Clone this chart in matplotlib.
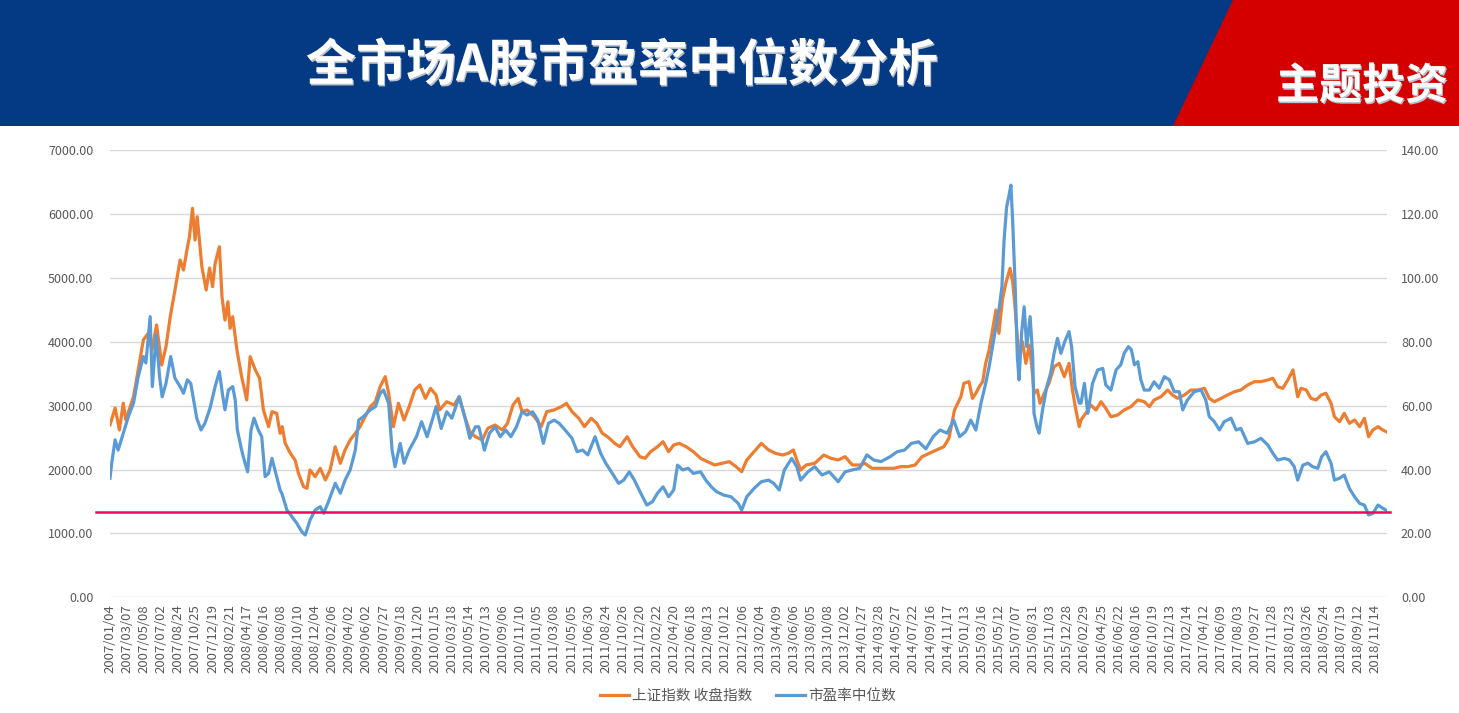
import numpy as np
import matplotlib
matplotlib.use('Agg')
import matplotlib.pyplot as plt
from matplotlib.patches import Rectangle, Polygon
from matplotlib.lines import Line2D
import matplotlib.patheffects as pe

plt.rcParams['font.family'] = ['Noto Sans CJK SC', 'DejaVu Sans']

# trading-day index (one x tick every 40 trading days) and values
sh_day = [0, 12, 22, 31, 37, 55, 66, 78, 90, 98, 109, 121, 131, 141, 152, 164, 172, 180, 186, 193,
          199, 204, 215, 225, 233, 240, 246, 256, 262, 269, 276, 281, 287, 297, 308, 320, 328, 340, 350, 359,
          371, 379, 390, 398, 403, 410, 422, 433, 441, 453, 461, 468, 480, 492, 504, 515, 527, 539, 550, 562,
          574, 585, 597, 609, 621, 632, 644, 652, 663, 675, 688, 700, 713, 725, 738, 750, 763, 771, 788, 805,
          817, 830, 842, 855, 871, 884, 901, 918, 930, 943, 955, 964, 976, 993, 1009, 1022, 1039, 1056, 1068, 1081,
          1097, 1110, 1126, 1139, 1152, 1164, 1181, 1193, 1210, 1223, 1240, 1252, 1265, 1281, 1294, 1307, 1319, 1332, 1348, 1365,
          1382, 1398, 1415, 1432, 1449, 1465, 1478, 1490, 1507, 1524, 1541, 1557, 1574, 1587, 1599, 1607, 1616, 1629, 1649, 1670,
          1687, 1704, 1720, 1737, 1754, 1766, 1783, 1800, 1817, 1834, 1850, 1867, 1884, 1900, 1917, 1934, 1951, 1963, 1976, 1991,
          1998, 2010, 2018, 2026, 2034, 2042, 2049, 2057, 2065, 2073, 2080, 2088, 2096, 2106, 2112, 2117, 2124, 2129, 2135, 2143,
          2151, 2157, 2162, 2170, 2176, 2186, 2197, 2209, 2221, 2233, 2244, 2252, 2260, 2268, 2272, 2283, 2295, 2307, 2319, 2330,
          2342, 2358, 2373, 2389, 2405, 2420, 2432, 2443, 2459, 2475, 2486, 2498, 2514, 2529, 2545, 2561, 2572, 2584, 2600, 2615,
          2631, 2646, 2662, 2678, 2693, 2709, 2721, 2732, 2744, 2756, 2768, 2779, 2787, 2799, 2810, 2822, 2834, 2845, 2857, 2865,
          2877, 2888, 2900, 2912, 2924, 2935, 2945, 2955, 2967, 2978, 2986]
sh_close = [2700, 2965, 2620, 3040, 2777, 3141, 3560, 4030, 4140, 3873, 4265, 3638, 3925, 4395, 4812, 5282, 5125, 5440, 5647, 6092,
            5595, 5960, 5177, 4812, 5157, 4864, 5230, 5490, 4707, 4342, 4629, 4212, 4394, 3873, 3455, 3090, 3768, 3560, 3430, 2933,
            2672, 2907, 2881, 2568, 2672, 2411, 2255, 2150, 1942, 1732, 1707, 1993, 1889, 2020, 1837, 1993, 2358, 2098, 2307, 2463,
            2568, 2672, 2828, 2985, 3063, 3298, 3455, 3195, 2672, 3038, 2777, 2985, 3246, 3325, 3116, 3273, 3168, 2933, 3063, 3011,
            3141, 2828, 2594, 2515, 2463, 2646, 2698, 2620, 2724, 3011, 3116, 2907, 2933, 2828, 2672, 2907, 2933, 2985, 3038, 2907,
            2803, 2672, 2803, 2724, 2568, 2515, 2411, 2358, 2515, 2358, 2202, 2176, 2280, 2358, 2437, 2280, 2385, 2411, 2358, 2280,
            2176, 2124, 2072, 2098, 2124, 2046, 1967, 2150, 2280, 2411, 2307, 2255, 2228, 2255, 2307, 2150, 1993, 2072, 2098, 2228,
            2176, 2150, 2202, 2072, 2072, 2098, 2020, 2020, 2020, 2020, 2046, 2046, 2072, 2202, 2255, 2307, 2358, 2490, 2933, 3141,
            3351, 3377, 3116, 3195, 3298, 3377, 3664, 3873, 4186, 4499, 4134, 4656, 4917, 5152, 4942, 4604, 3977, 3821, 4003, 3664,
            3951, 3611, 3195, 3246, 3038, 3195, 3351, 3611, 3664, 3455, 3664, 3246, 2933, 2672, 2777, 2881, 3011, 2933, 3063, 2959,
            2828, 2855, 2933, 2985, 3090, 3063, 2985, 3090, 3141, 3246, 3168, 3116, 3168, 3246, 3246, 3273, 3116, 3063, 3116, 3168,
            3220, 3246, 3325, 3377, 3377, 3403, 3430, 3298, 3273, 3403, 3560, 3141, 3273, 3246, 3116, 3090, 3168, 3195, 3038, 2828,
            2750, 2881, 2724, 2777, 2672, 2803, 2515, 2620, 2672, 2620, 2594]

pe_day = [0, 4, 12, 19, 31, 43, 55, 66, 78, 84, 94, 99, 108, 116, 122, 131, 142, 152, 164, 172,
          181, 189, 203, 213, 222, 234, 246, 256, 264, 269, 277, 287, 293, 298, 308, 314, 322, 330, 337, 347,
          355, 363, 371, 379, 386, 398, 402, 414, 426, 437, 449, 457, 468, 480, 492, 500, 511, 527, 539, 550,
          562, 574, 582, 593, 609, 621, 632, 640, 652, 660, 667, 679, 688, 700, 717, 729, 742, 754, 763, 775,
          788, 800, 817, 830, 842, 855, 863, 876, 888, 901, 913, 926, 938, 951, 964, 976, 989, 1001, 1014, 1026,
          1039, 1051, 1068, 1081, 1093, 1106, 1118, 1135, 1148, 1160, 1173, 1190, 1202, 1215, 1227, 1240, 1256, 1269, 1281, 1294,
          1307, 1319, 1328, 1340, 1353, 1365, 1382, 1394, 1407, 1419, 1436, 1453, 1470, 1478, 1490, 1507, 1524, 1541, 1553, 1566,
          1578, 1595, 1607, 1616, 1633, 1649, 1666, 1683, 1704, 1720, 1737, 1754, 1771, 1787, 1804, 1825, 1842, 1859, 1875, 1892,
          1909, 1926, 1942, 1959, 1974, 1988, 2002, 2014, 2026, 2038, 2049, 2057, 2065, 2073, 2080, 2087, 2092, 2098, 2103, 2108,
          2112, 2118, 2123, 2127, 2133, 2139, 2145, 2153, 2159, 2162, 2169, 2174, 2182, 2192, 2201, 2209, 2217, 2225, 2234, 2244,
          2250, 2258, 2268, 2272, 2280, 2288, 2299, 2311, 2323, 2330, 2342, 2354, 2365, 2373, 2383, 2390, 2397, 2405, 2412, 2420,
          2432, 2443, 2455, 2467, 2479, 2490, 2502, 2510, 2521, 2537, 2553, 2564, 2572, 2584, 2596, 2607, 2623, 2635, 2646, 2662,
          2678, 2693, 2709, 2721, 2732, 2748, 2760, 2771, 2779, 2791, 2803, 2814, 2826, 2835, 2845, 2857, 2865, 2877, 2888, 2900,
          2912, 2924, 2935, 2945, 2955, 2967, 2978, 2986]
pe_median = [37.3, 42.0, 49.3, 46.1, 51.4, 56.6, 60.8, 69.1, 75.4, 73.4, 87.9, 66.0, 82.2, 69.1, 62.8, 67.0, 75.4, 68.6, 66.0, 63.9,
             68.1, 67.0, 56.1, 52.4, 54.5, 59.2, 66.0, 70.7, 62.8, 58.7, 64.9, 66.0, 61.8, 52.4, 46.1, 43.0, 39.3, 52.4, 56.1, 52.4,
             50.3, 37.8, 38.8, 43.5, 39.9, 33.6, 32.6, 27.3, 25.2, 23.2, 20.5, 19.5, 24.2, 27.3, 28.4, 26.3, 29.9, 35.7, 32.6, 36.7,
             39.9, 46.1, 55.5, 56.6, 58.7, 59.7, 63.9, 64.9, 60.8, 46.1, 40.9, 48.2, 42.0, 46.1, 50.3, 55.0, 50.3, 55.5, 59.7, 52.9,
             58.1, 56.1, 62.8, 56.6, 49.8, 53.4, 53.4, 46.1, 51.4, 53.4, 50.3, 52.4, 50.3, 53.4, 58.1, 57.1, 58.1, 55.5, 48.2, 54.5,
             55.5, 54.5, 51.9, 49.8, 45.6, 46.1, 44.6, 50.3, 45.1, 42.0, 39.3, 35.7, 36.7, 39.3, 36.7, 33.1, 28.9, 29.9, 32.6, 34.6,
             31.5, 33.6, 41.4, 39.9, 40.4, 38.8, 39.3, 36.7, 34.6, 33.1, 32.0, 31.5, 29.4, 27.3, 31.5, 34.1, 36.2, 36.7, 35.7, 33.6,
             39.9, 43.5, 40.9, 36.7, 39.3, 40.9, 38.3, 39.3, 36.2, 39.3, 39.9, 40.4, 44.6, 43.0, 42.5, 44.0, 45.6, 46.1, 48.2, 48.7,
             46.5, 50.3, 52.4, 51.4, 55.5, 50.3, 51.9, 55.5, 52.4, 60.8, 67.0, 72.2, 78.5, 84.8, 90.0, 97.3, 111.9, 122.3, 125.5, 129.1,
             118.2, 97.3, 75.4, 68.1, 82.7, 91.0, 78.5, 87.9, 75.4, 57.6, 53.4, 51.4, 58.7, 66.0, 70.2, 76.4, 81.1, 76.4, 80.1, 83.2,
             78.5, 66.0, 60.8, 60.8, 67.0, 57.6, 67.0, 71.2, 71.7, 66.5, 64.9, 71.2, 72.8, 76.4, 78.5, 77.5, 72.8, 73.8, 68.1, 64.9,
             64.9, 67.5, 65.5, 69.1, 68.1, 64.4, 64.4, 58.7, 61.8, 64.4, 64.9, 61.8, 56.6, 55.0, 52.4, 55.0, 56.1, 52.4, 52.9, 48.2,
             48.7, 49.8, 47.7, 45.1, 43.0, 43.5, 43.0, 40.9, 36.7, 41.4, 42.0, 40.9, 40.4, 44.0, 45.6, 42.0, 36.7, 37.3, 38.3, 34.1,
             31.5, 29.4, 28.9, 25.8, 26.3, 28.9, 27.9, 27.3]

ref_level = 26.8  # 参考线 (右轴)

tick_labels = ['2007/01/04', '2007/03/07', '2007/05/08', '2007/07/02', '2007/08/24', '2007/10/25', '2007/12/19',
               '2008/02/21', '2008/04/17', '2008/06/16', '2008/08/08', '2008/10/10', '2008/12/04', '2009/02/06',
               '2009/04/02', '2009/06/02', '2009/07/27', '2009/09/18', '2009/11/20', '2010/01/15', '2010/03/18',
               '2010/05/14', '2010/07/13', '2010/09/06', '2010/11/10', '2011/01/05', '2011/03/08', '2011/05/05',
               '2011/06/30', '2011/08/24', '2011/10/26', '2011/12/20', '2012/02/22', '2012/04/20', '2012/06/18',
               '2012/08/13', '2012/10/12', '2012/12/06', '2013/02/04', '2013/04/09', '2013/06/06', '2013/08/05',
               '2013/10/08', '2013/12/02', '2014/01/27', '2014/03/28', '2014/05/27', '2014/07/22', '2014/09/16',
               '2014/11/17', '2015/01/13', '2015/03/16', '2015/05/12', '2015/07/07', '2015/08/31', '2015/11/03',
               '2015/12/28', '2016/02/29', '2016/04/25', '2016/06/22', '2016/08/16', '2016/10/19', '2016/12/13',
               '2017/02/14', '2017/04/12', '2017/06/09', '2017/08/03', '2017/09/27', '2017/11/28', '2018/01/23',
               '2018/03/26', '2018/05/24', '2018/07/19', '2018/09/12', '2018/11/14']
tick_step = 40

orange = '#ED7D31'
blue = '#5B9BD5'
grey = '#595959'

fig = plt.figure(figsize=(14.59, 7.13), dpi=100)

# header banner
fig.patches.append(Rectangle((0, 1 - 126 / 713), 1, 126 / 713, transform=fig.transFigure,
                             facecolor='#043A84', edgecolor='none', zorder=0))
fig.patches.append(Polygon([(1233 / 1459, 1), (1, 1), (1, 1 - 126 / 713), (1173 / 1459, 1 - 126 / 713)],
                           closed=True, transform=fig.transFigure, facecolor='#D40000',
                           edgecolor='none', zorder=1))
shadow = [pe.withSimplePatchShadow(offset=(0.8, -1.2), shadow_rgbFace='#B8BFCC', alpha=1)]
fig.text(622 / 1459, 1 - 66 / 713, '全市场A股市盈率中位数分析', color='white', fontsize=36,
         fontweight='bold', ha='center', va='center', path_effects=shadow)
fig.text(1362 / 1459, 1 - 86 / 713, '主题投资', color='white', fontsize=31,
         fontweight='bold', ha='center', va='center', path_effects=shadow)

ax = fig.add_axes([110 / 1459, 1 - 597.3 / 713, 1277 / 1459, 447 / 713])
ax2 = ax.twinx()

ax.plot(sh_day, sh_close, color=orange, lw=2.3, solid_joinstyle='round')
ax2.plot(pe_day, pe_median, color=blue, lw=2.3, solid_joinstyle='round')
ax2.plot([-0.011, 1.002], [ref_level, ref_level], color='#F0065C', lw=1.8,
         transform=ax2.get_yaxis_transform(), clip_on=False, zorder=5)

ax.set_xlim(0, 2988)
ax.set_ylim(0, 7000)
ax2.set_ylim(0, 140)
ax.set_yticks(np.arange(0, 7001, 1000))
ax2.set_yticks(np.arange(0, 141, 20))
ax.set_yticklabels([f'{v:.2f}' for v in np.arange(0, 7001, 1000)])
ax2.set_yticklabels([f'{v:.2f}' for v in np.arange(0, 141, 20)])
ax.set_xticks(np.arange(len(tick_labels)) * tick_step)
ax.set_xticklabels(tick_labels, rotation=90)

ax.grid(axis='y', color='#D9D9D9', lw=1)
ax.set_axisbelow(True)
for a in (ax, ax2):
    for s in a.spines.values():
        s.set_visible(False)
ax.tick_params(axis='y', length=0, pad=12, labelsize=9, labelcolor=grey)
ax2.tick_params(axis='y', length=0, pad=10, labelsize=9, labelcolor=grey)
ax.tick_params(axis='x', length=0, pad=5, labelsize=9.5, labelcolor=grey)

handles = [Line2D([], [], color=orange, lw=2.3), Line2D([], [], color=blue, lw=2.3)]
fig.legend(handles, ['上证指数 收盘指数', '市盈率中位数'], loc='center', ncol=2,
           bbox_to_anchor=(748 / 1459, 1 - 696 / 713), frameon=False, fontsize=10.5,
           handlelength=2.0, handletextpad=0.2, columnspacing=1.6, labelcolor=grey)

fig.savefig('out.png', dpi=100)
